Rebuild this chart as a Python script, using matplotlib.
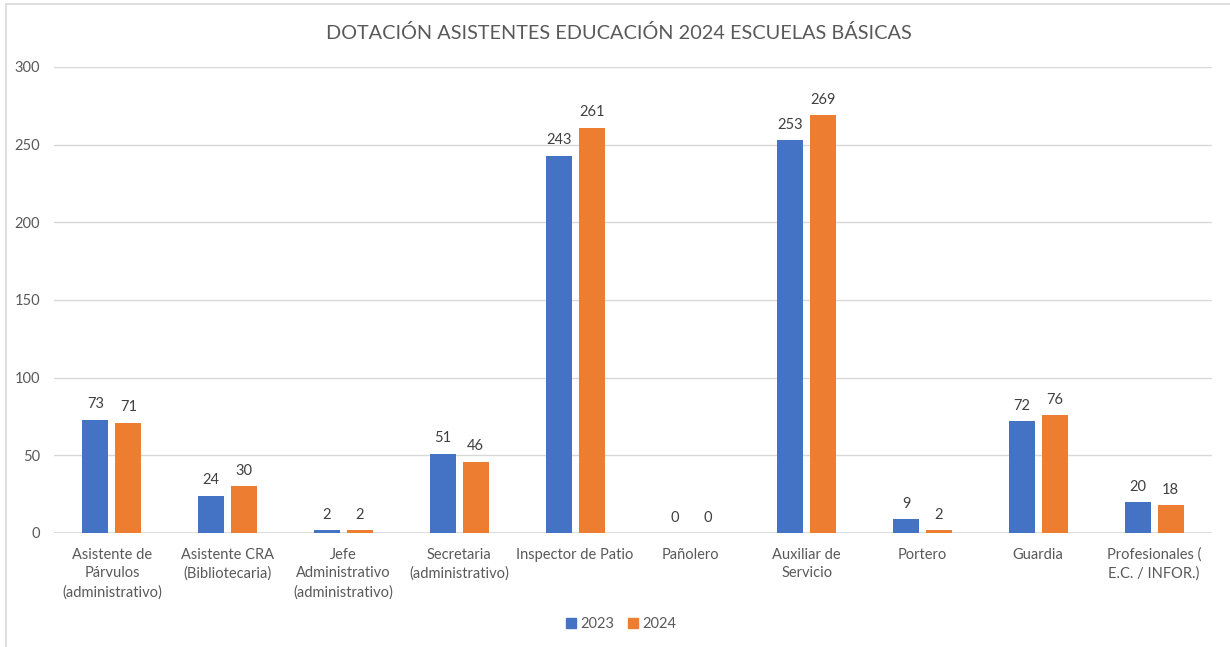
import matplotlib
matplotlib.use("Agg")
import matplotlib.pyplot as plt
import numpy as np
from matplotlib.lines import Line2D

categories = ["Asistente de\nPárvulos\n(administrativo)", "Asistente CRA\n(Bibliotecaria)",
              "Jefe\nAdministrativo\n(administrativo)", "Secretaria\n(administrativo)",
              "Inspector de Patio", "Pañolero", "Auxiliar de\nServicio", "Portero",
              "Guardia", "Profesionales (\nE.C. / INFOR.)"]
v2023 = [73, 24, 2, 51, 243, 0, 253, 9, 72, 20]
v2024 = [71, 30, 2, 46, 261, 0, 269, 2, 76, 18]
series_names = ["2023", "2024"]
yticks = [0, 50, 100, 150, 200, 250, 300]

plt.rcParams['font.family'] = ['Lato', 'DejaVu Sans']
W, H = 1230, 647
fig = plt.figure(figsize=(W/100, H/100), dpi=100)
ax = fig.add_axes([54/W, 1-533/H, (1212-54)/W, (533-67)/H])

txt = '#595959'
blue, orange = '#4472C4', '#ED7D31'
x = np.arange(len(categories))
bw = 0.225
off = 0.1425
b1 = ax.bar(x-off, v2023, bw, color=blue, zorder=3)
b2 = ax.bar(x+off, v2024, bw, color=orange, zorder=3)
for bars, vals in ((b1, v2023), (b2, v2024)):
    for r, v in zip(bars, vals):
        ax.annotate(str(v), (r.get_x()+r.get_width()/2, v), xytext=(0, 6),
                    textcoords='offset points', ha='center', va='bottom',
                    fontsize=10.5, color='#404040')

ax.set_xlim(-0.5, len(categories)-0.5)
ax.set_ylim(0, 300)
ax.set_yticks(yticks)
ax.set_xticks(x)
ax.set_xticklabels(categories, fontsize=10.5, color=txt, linespacing=1.42)
ax.tick_params(axis='y', labelsize=10.5, labelcolor=txt, length=0, pad=10)
ax.tick_params(axis='x', length=0, pad=10.5)
ax.grid(axis='y', color='#D9D9D9', linewidth=1, zorder=0)
for s in ax.spines.values():
    s.set_visible(False)
ax.axhline(0, color='#D9D9D9', linewidth=1.2, zorder=2)

fig.text(619/W, 1-33/H, "DOTACIÓN ASISTENTES EDUCACIÓN 2024 ESCUELAS BÁSICAS",
         ha='center', va='center', fontsize=14.3, color=txt)

handles = [Line2D([], [], marker='s', linestyle='', color=blue, markersize=7),
           Line2D([], [], marker='s', linestyle='', color=orange, markersize=7)]
fig.legend(handles, series_names, loc='center', bbox_to_anchor=(620/W, 1-624/H),
           ncol=2, frameon=False, fontsize=10.5, labelcolor=txt,
           handletextpad=0.1, columnspacing=0.8, handlelength=1.0)

# chart border
fig.add_artist(Line2D([6/W, 6/W], [0, 1-4/H], color='#D9D9D9', linewidth=1.2))
fig.add_artist(Line2D([6/W, 1], [1-4/H, 1-4/H], color='#D9D9D9', linewidth=1.2))

fig.savefig("out.png", dpi=100)
